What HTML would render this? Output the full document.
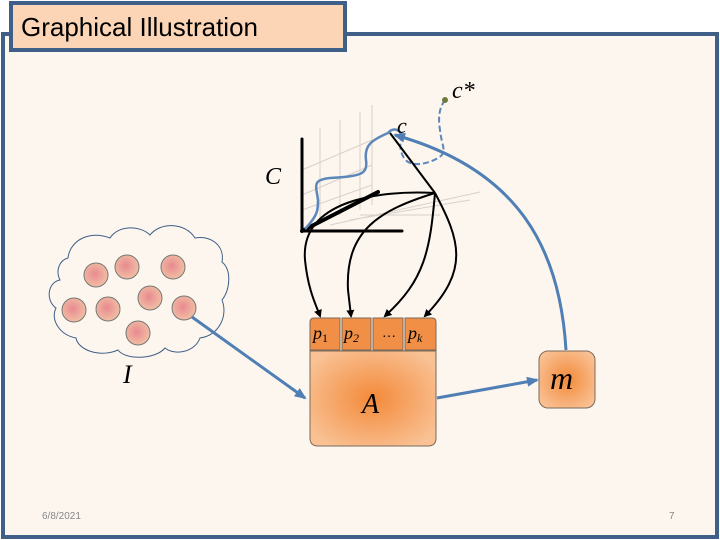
<!DOCTYPE html>
<html><head><meta charset="utf-8"><style>
body{margin:0;background:#fff}
svg{display:block}
</style></head><body>
<svg width="720" height="540" viewBox="0 0 720 540" xmlns="http://www.w3.org/2000/svg">
<defs>
<radialGradient id="gA" cx="50%" cy="50%" r="60%"><stop offset="0" stop-color="#f38a3a"/><stop offset="1" stop-color="#f9c194"/></radialGradient>
<radialGradient id="gC" cx="45%" cy="45%" r="55%"><stop offset="0" stop-color="#e88a90"/><stop offset="1" stop-color="#f1bea3"/></radialGradient>
<marker id="ab" markerWidth="8" markerHeight="8" refX="6" refY="4" orient="auto" markerUnits="userSpaceOnUse"><path d="M0,0 L8,4 L0,8 Z" fill="#000"/></marker>
<marker id="ub" markerWidth="12" markerHeight="10" refX="10" refY="5" orient="auto" markerUnits="userSpaceOnUse"><path d="M0,0 L12,5 L0,10 Z" fill="#4f7fb4"/></marker>
</defs>
<rect width="720" height="540" fill="#fff"/>
<rect x="3" y="34" width="714" height="503" fill="#fdf6ef" stroke="#3f5f88" stroke-width="4"/>
<rect x="11" y="3" width="334" height="47" fill="#fbd5b5" stroke="#3f5f88" stroke-width="4"/>
<text x="21" y="36" font-family="Liberation Sans, sans-serif" font-size="26" fill="#000">Graphical Illustration</text>
<g stroke="#d8d0ca" stroke-width="1" fill="none">
<path d="M320,128 L320,220 M340,120 L340,215 M360,112 L360,210 M372,105 L372,205"/>
<path d="M302,170 L372,140 M302,195 L372,165 M302,210 L372,185"/>
<path d="M330,225 L480,192 M350,220 L470,200 M360,215 L440,215"/>
</g>
<g stroke="#000" stroke-width="3" fill="none" stroke-linecap="round">
<path d="M302,139 L302,231 L402,231"/>
<path d="M302,231 L378,192" stroke-width="4"/>
</g>
<path d="M305,229 C318,215 318,210 318,200 C316,185 312,180 330,178 C360,176 368,175 366,160 C364,145 372,140 388,133 C392,128 398,128 402,135" fill="none" stroke="#5b87ba" stroke-width="2.5"/>
<path d="M445,100 C439,108 438,118 440,130 C442,148 448,152 438,158 C428,164 410,168 404,158 C398,148 400,138 405,133" fill="none" stroke="#5b87ba" stroke-width="2" stroke-dasharray="6,3"/>
<circle cx="445" cy="100" r="3" fill="#6b7b3b"/>
<path d="M390,133 L435,193" stroke="#000" stroke-width="2"/>
<g stroke="#000" stroke-width="2" fill="none" marker-end="url(#ab)">
<path d="M435,193 C380,190 300,200 305,260 C308,290 316,305 320,316"/>
<path d="M435,193 C380,210 345,230 348,290 L351,316"/>
<path d="M435,193 C430,250 425,280 385,316"/>
<path d="M435,193 C460,240 470,270 425,316"/>
</g>
<text x="397" y="133" font-family="Liberation Serif, serif" font-style="italic" font-size="22">c</text>
<text x="452" y="98" font-family="Liberation Serif, serif" font-style="italic" font-size="24">c*</text>
<text x="265" y="184" font-family="Liberation Serif, serif" font-style="italic" font-size="24">C</text>
<path d="M566,350 C560,250 520,170 395,135" fill="none" stroke="#4f7fb4" stroke-width="3" marker-end="url(#ub)"/>
<path d="M68,258 C70,240 90,230 110,238 C118,225 140,225 150,235 C160,222 185,222 195,238 C210,235 225,245 222,262 C232,270 230,290 222,300 C228,315 220,335 200,338 C195,352 175,356 165,348 C155,360 125,360 118,350 C100,358 78,350 76,338 C60,335 50,320 56,308 C45,300 48,282 60,280 C55,270 60,260 68,258 Z" fill="#fdf6ef" stroke="#3f5f88" stroke-width="1"/>
<g fill="url(#gC)" stroke="#777" stroke-width="1">
<circle cx="96" cy="275" r="12"/><circle cx="127" cy="267" r="12"/><circle cx="173" cy="267" r="12"/>
<circle cx="74" cy="310" r="12"/><circle cx="108" cy="309" r="12"/><circle cx="150" cy="298" r="12"/>
<circle cx="184" cy="308" r="12"/><circle cx="138" cy="333" r="12"/>
</g>
<text x="123" y="383" font-family="Liberation Serif, serif" font-style="italic" font-size="26">I</text>
<path d="M192,317 L305,398" stroke="#4f7fb4" stroke-width="3" marker-end="url(#ub)"/>
<path d="M310,351 H436 V438 Q436,446 428,446 H318 Q310,446 310,438 Z" fill="url(#gA)" stroke="#7a6a5a" stroke-width="1"/>
<text x="362" y="413" font-family="Liberation Serif, serif" font-style="italic" font-size="28">A</text>
<g fill="#f08f45" stroke="#7a6a5a" stroke-width="1">
<path d="M310,350 V322 Q310,318 314,318 H340 V350 Z"/>
<rect x="342" y="318" width="29" height="32"/>
<rect x="373" y="318" width="30" height="32"/>
<path d="M405,318 H432 Q436,318 436,322 V350 H405 Z"/>
</g>
<g font-family="Liberation Serif, serif" font-style="italic" font-size="18">
<text x="313" y="339">p<tspan font-size="12" dy="3" font-style="normal">1</tspan></text>
<text x="344" y="339">p<tspan font-size="12" dy="3">2</tspan></text>
<text x="382" y="337" font-style="normal" font-size="14">…</text>
<text x="408" y="339">p<tspan font-size="12" dy="3">k</tspan></text>
</g>
<rect x="539" y="351" width="56" height="57" rx="9" fill="url(#gA)" stroke="#7a6a5a" stroke-width="1"/>
<text x="550" y="389" font-family="Liberation Serif, serif" font-style="italic" font-size="32">m</text>
<path d="M437,398 L537,380" stroke="#4f7fb4" stroke-width="3" marker-end="url(#ub)"/>
<text x="42" y="519" font-family="Liberation Sans, sans-serif" font-size="10" fill="#888">6/8/2021</text>
<text x="669" y="519" font-family="Liberation Sans, sans-serif" font-size="10" fill="#888">7</text>
</svg>
</body></html>
